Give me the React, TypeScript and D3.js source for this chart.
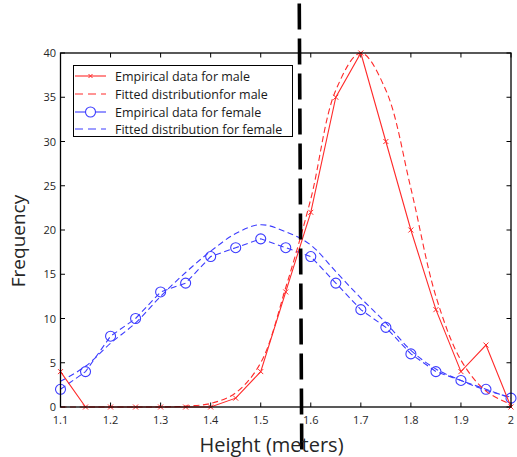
import React from "react";
import * as d3 from "d3";

const heights = [1.1, 1.15, 1.2, 1.25, 1.3, 1.35, 1.4, 1.45, 1.5, 1.55, 1.6, 1.65, 1.7, 1.75, 1.8, 1.85, 1.9, 1.95, 2.0];
const maleEmpirical = [4, 0, 0, 0, 0, 0, 0, 1, 4, 13, 22, 35, 40, 30, 20, 11, 4, 7, 0];
const maleFitted = [0, 0, 0, 0, 0, 0.1, 0.4, 1.6, 5.0, 13.5, 23.5, 35.8, 40, 35.8, 24.7, 12.5, 5.3, 1.8, 0.3];
const femaleEmpirical = [2, 4, 8, 10, 13, 14, 17, 18, 19, 18, 17, 14, 11, 9, 6, 4, 3, 2, 1];
const femaleFitted = [2.9, 4.6, 7.2, 9.5, 12.5, 15.2, 17.6, 19.6, 20.6, 19.8, 18.3, 15.3, 12.3, 9.5, 6.4, 4.3, 3.0, 1.9, 1.1];
const cutoffX = [1.577, 1.582];
const cutoffY = [45.6, -5.2];
const xTicks = [1.1, 1.2, 1.3, 1.4, 1.5, 1.6, 1.7, 1.8, 1.9, 2.0];
const yTicks = [0, 5, 10, 15, 20, 25, 30, 35, 40];
const legendLabels = [
  "Empirical data for male",
  "Fitted distributionfor male",
  "Empirical data for female",
  "Fitted distribution for female",
];

const W = 517, H = 457;
const L = 60.5, R = 511, T = 53, B = 407;
const RED = "#ff2a2a";
const BLUE = "#3c3cff";
const FONT = "'Open Sans', 'Noto Sans', sans-serif";

export default function App() {
  const x = d3.scaleLinear().domain([1.1, 2.0]).range([L, R]);
  const y = d3.scaleLinear().domain([0, 40]).range([B, T]);
  const pts = (vals: number[]) => heights.map((h, i) => [h, vals[i]] as [number, number]);
  const straight = d3.line<[number, number]>().x(d => x(d[0])).y(d => y(d[1]));
  const smooth = d3.line<[number, number]>().x(d => x(d[0])).y(d => y(d[1])).curve(d3.curveCatmullRom.alpha(0.5));
  const cutoff = d3.line<[number, number]>().x(d => x(d[0])).y(d => y(d[1]));
  const cutoffPts = cutoffX.map((v, i) => [v, cutoffY[i]] as [number, number]);

  const cross = (cx: number, cy: number, k: string, s = 2.5) => (
    <path key={k} d={`M${cx - s},${cy - s}L${cx + s},${cy + s}M${cx - s},${cy + s}L${cx + s},${cy - s}`} stroke={RED} strokeWidth={1} fill="none" />
  );

  const legY = [76, 94, 112, 129];
  const legX0 = 75, legX1 = 106, legText = 115;

  return (
    <svg width={W} height={H} style={{ position: "absolute", left: 0, top: 0, background: "#fff" }} fontFamily={FONT}>
      <rect x={0} y={0} width={W} height={H} fill="#fff" />
      {/* ticks */}
      {xTicks.map(t => (
        <g key={"xt" + t}>
          <line x1={x(t)} x2={x(t)} y1={B} y2={B - 4.5} stroke="#000" strokeWidth={1} />
          <line x1={x(t)} x2={x(t)} y1={T} y2={T + 4.5} stroke="#000" strokeWidth={1} />
          <text x={x(t)} y={423.5} textAnchor="middle" fontSize={11} fill="#262626">{t === 2 ? "2" : t.toFixed(1)}</text>
        </g>
      ))}
      {yTicks.map(t => (
        <g key={"yt" + t}>
          <line x1={L} x2={L + 4.5} y1={y(t)} y2={y(t)} stroke="#000" strokeWidth={1} />
          <line x1={R} x2={R - 4.5} y1={y(t)} y2={y(t)} stroke="#000" strokeWidth={1} />
          <text x={56} y={y(t) + 4} textAnchor="end" fontSize={11} fill="#262626">{t}</text>
        </g>
      ))}
      {/* data */}
      <path d={smooth(pts(femaleFitted)) || ""} fill="none" stroke={BLUE} strokeWidth={1.1} strokeDasharray="6,3.5" />
      <path d={straight(pts(femaleEmpirical)) || ""} fill="none" stroke={BLUE} strokeWidth={1.1} strokeDasharray="6,3.5" />
      {pts(femaleEmpirical).map((p, i) => (
        <circle key={"fc" + i} cx={x(p[0])} cy={y(p[1])} r={5} fill="none" stroke={BLUE} strokeWidth={1.1} />
      ))}
      <path d={smooth(pts(maleFitted)) || ""} fill="none" stroke={RED} strokeWidth={1.1} strokeDasharray="6,3.5" />
      <path d={straight(pts(maleEmpirical)) || ""} fill="none" stroke={RED} strokeWidth={1.1} />
      {pts(maleEmpirical).map((p, i) => cross(x(p[0]), y(p[1]), "mc" + i))}
      {/* axes box */}
      <rect x={L} y={T} width={R - L} height={B - T} fill="none" stroke="#000" strokeWidth={1.3} />
      {/* cutoff */}
      <path d={cutoff(cutoffPts) || ""} fill="none" stroke="#000" strokeWidth={3.6} strokeDasharray="26,9" />
      {/* legend */}
      <rect x={73.5} y={65.5} width={219} height={71} fill="#fff" stroke="#000" strokeWidth={1} />
      {legendLabels.map((lab, i) => {
        const color = i < 2 ? RED : BLUE;
        const dashed = i % 2 === 1 || i === 2;
        const cx = (legX0 + legX1) / 2;
        return (
          <g key={"lg" + i}>
            {i === 2 ? (
              <>
                <line x1={legX0} x2={cx - 5} y1={legY[i]} y2={legY[i]} stroke={color} strokeWidth={1.1} />
                <line x1={cx + 5} x2={legX1} y1={legY[i]} y2={legY[i]} stroke={color} strokeWidth={1.1} />
                <circle cx={cx} cy={legY[i]} r={5} fill="none" stroke={color} strokeWidth={1.1} />
              </>
            ) : (
              <line x1={legX0} x2={legX1} y1={legY[i]} y2={legY[i]} stroke={color} strokeWidth={1.1} strokeDasharray={dashed ? "8,5" : undefined} />
            )}
            {i === 0 && cross(cx, legY[i], "lgx", 2)}
            <text x={legText} y={legY[i] + 4.5} fontSize={12.5} fill="#1a1a1a">{lab}</text>
          </g>
        );
      })}
      {/* labels */}
      <text x={271.5} y={452} textAnchor="middle" fontSize={20} fill="#262626">Height (meters)</text>
      <text transform={`translate(25,241) rotate(-90)`} textAnchor="middle" fontSize={19} fill="#262626">Frequency</text>
    </svg>
  );
}
